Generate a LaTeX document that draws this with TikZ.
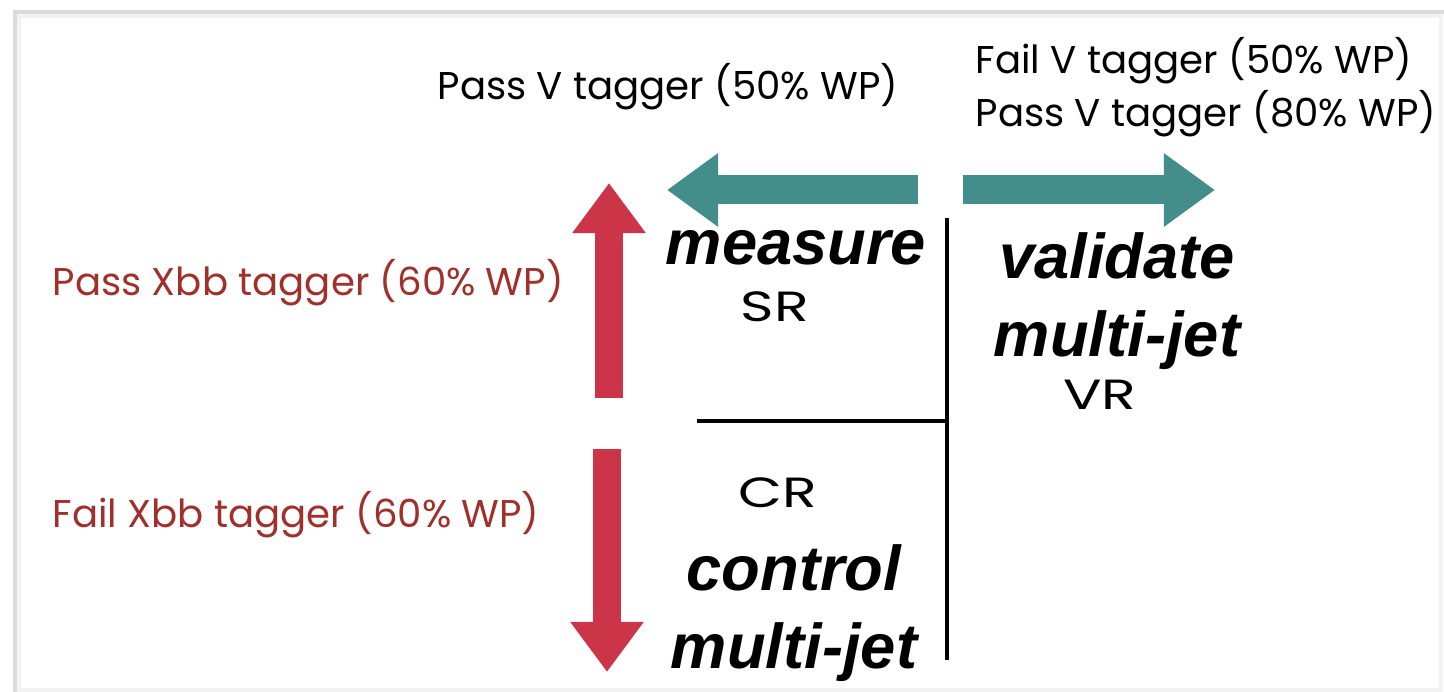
\documentclass[tikz,border=0pt]{standalone}
\usepackage{fontspec}
\usepackage{xcolor}
\usepackage{graphicx}
\usetikzlibrary{arrows.meta}
\newfontfamily\handfont{Poppins}
\newfontfamily\regionfont{Liberation Sans}
\definecolor{vteal}{HTML}{438D8A}
\definecolor{xbbred}{HTML}{CC3447}
\definecolor{labelred}{HTML}{A0302B}
\newcommand{\regiontag}[1]{\scalebox{1.35}[1]{#1}}

\begin{document}
\begin{tikzpicture}[x=0.01cm,y=-0.01cm,
    hand/.style={font=\handfont\fontsize{11}{15}\selectfont, inner sep=0pt},
    region/.style={font=\regionfont\bfseries\itshape\fontsize{18}{22}\selectfont,
        align=center, inner sep=0pt},
    tag/.style={font=\handfont\fontsize{12}{15}\selectfont, inner sep=0pt},
    vshaft/.style={vteal, line width=0.29cm, -{Triangle[width=0.7cm,length=0.51cm]}},
    xshaft/.style={xbbred, line width=0.28cm, -{Triangle[width=0.7cm,length=0.5cm]}},
    cut/.style={black, line width=0.9pt}]
    \useasboundingbox (0,0) rectangle (1444,692);
    % slide frame
    \draw[black!14, line width=1.4pt] (15,692) -- (15,12) -- (1444,12);
    \draw[black!5, line width=1pt] (19,690) -- (19,16) -- (1441,16) -- (1441,690) -- cycle;

    \coordinate (vLtail) at (918,190);
    \coordinate (vLtip) at (667,190);
    \coordinate (vRtail) at (963,190);
    \coordinate (vRtip) at (1215,190);
    \coordinate (xUtail) at (609,398);
    \coordinate (xUtip) at (609,183);
    \coordinate (xDtail) at (607,449);
    \coordinate (xDtip) at (607,672);
    \coordinate (cutTop) at (947,218);
    \coordinate (cutBot) at (947,660);
    \coordinate (cutMid) at (947,421);
    \coordinate (cutLeft) at (697,421);

    \draw[vshaft] (vLtail) -- (vLtip);
    \draw[vshaft] (vRtail) -- (vRtip);
    \draw[xshaft] (xUtail) -- (xUtip);
    \draw[xshaft] (xDtail) -- (xDtip);
    \draw[cut] (cutTop) -- (cutBot);
    \draw[cut] (cutLeft) -- (cutMid);

    \node[hand, anchor=west] (passV) at (437,87) {Pass V tagger (50\% WP)};
    \node[hand, anchor=west, align=left] (failV) at (975,87)
        {Fail V tagger (50\% WP)\\Pass V tagger (80\% WP)};
    \node[hand, labelred, anchor=west] (passXbb) at (52,283) {Pass Xbb tagger (60\% WP)};
    \node[hand, labelred, anchor=west] (failXbb) at (52,515) {Fail Xbb tagger (60\% WP)};

    \node[region] (measure) at (796,248) {measure};
    \node[tag] (sr) at (775,307) {\regiontag{SR}};
    \node[region] (validate) at (1117,301) {validate\\multi-jet};
    \node[tag] (vr) at (1100,395) {\regiontag{VR}};
    \node[tag] (cr) at (778,493) {\regiontag{CR}};
    \node[region] (control) at (794,613) {control\\multi-jet};
\end{tikzpicture}
\end{document}
